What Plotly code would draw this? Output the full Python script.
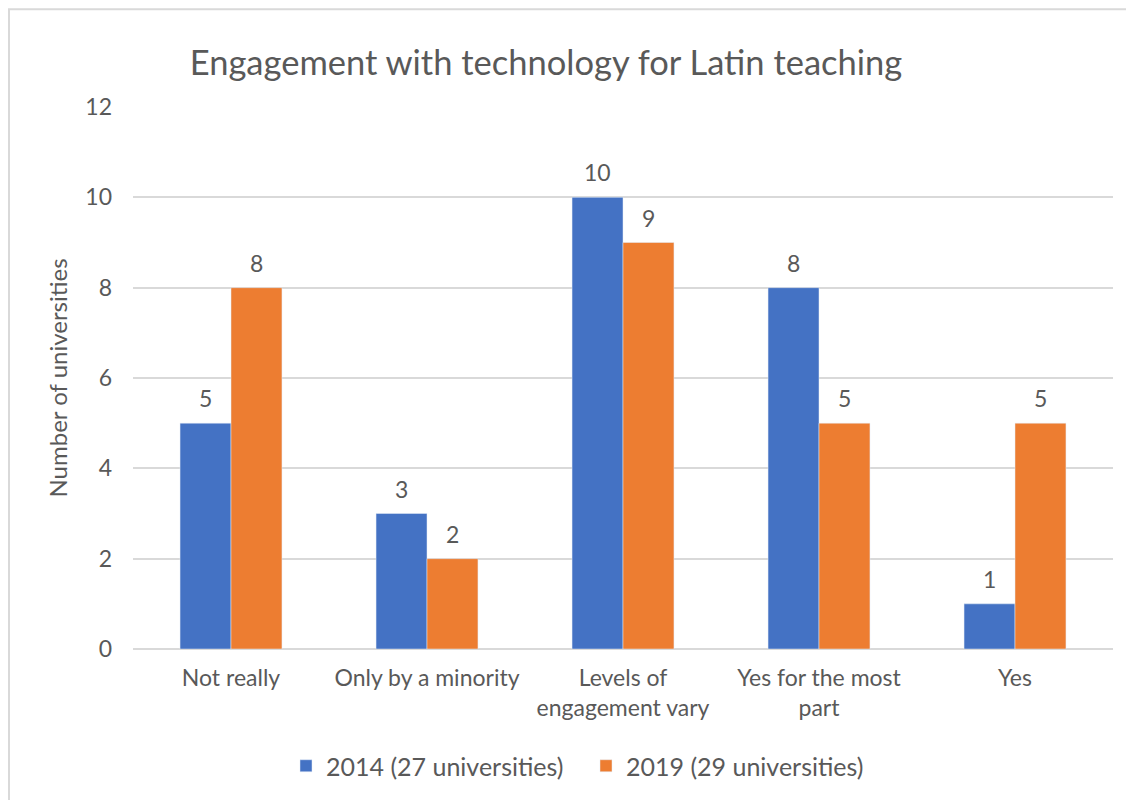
import plotly.graph_objects as go

categories = ["Not really", "Only by a minority", "Levels of<br>engagement vary", "Yes for the most<br>part", "Yes"]
series_2014 = [5, 3, 10, 8, 1]
series_2019 = [8, 2, 9, 5, 5]
name_2014 = "2014 (27 universities)"
name_2019 = "2019 (29 universities)"
y_ticks = [0, 2, 4, 6, 8, 10, 12]

FONT = "Lato, 'Open Sans', sans-serif"
GRAY = "#595959"

# page body has an 8px margin, so the figure begins at (8, 8)
W, H = 1126, 792
L, R, T, B = 125, 21, 99, 150
pw, ph = W - L - R, H - T - B

fig = go.Figure()
fig.add_trace(go.Bar(x=categories, y=series_2014, name=name_2014, marker_color="#4472C4"))
fig.add_trace(go.Bar(x=categories, y=series_2019, name=name_2019, marker_color="#ED7D31"))

annotations = []
for vals, shift in ((series_2014, -25.5), (series_2019, 25.5)):
    for c, v in zip(categories, vals):
        annotations.append(dict(x=c, y=v, xref="x", yref="y", text=str(v), showarrow=False,
                                xshift=shift, yshift=25, yanchor="middle",
                                font=dict(size=23, color=GRAY, family=FONT)))


def px_x(p):
    return (p - L) / pw


def px_y(p):
    return (H - B - p) / ph


fig.update_layout(
    width=W, height=H,
    margin=dict(l=L, r=R, t=T, b=B),
    paper_bgcolor="white", plot_bgcolor="white",
    barmode="group", bargap=0.48, bargroupgap=0,
    font=dict(family=FONT, color=GRAY, size=23),
    title=dict(text="Engagement with technology for Latin teaching", x=538 / W, xanchor="center",
               xref="container", y=1 - 55 / H, yanchor="middle",
               font=dict(size=34.5, color=GRAY, family=FONT)),
    xaxis=dict(showgrid=False, showline=False, ticks="", ticklabelstandoff=13,
               tickfont=dict(size=23, color=GRAY)),
    yaxis=dict(range=[0, 12], tickvals=y_ticks, showgrid=True, gridcolor="#D9D9D9", gridwidth=1.5,
               zeroline=True, zerolinecolor="#D9D9D9", zerolinewidth=1.5, ticks="",
               ticklabelstandoff=20,
               tickfont=dict(size=23, color=GRAY),
               title=dict(text="Number of universities", font=dict(size=24, color=GRAY), standoff=10)),
    legend=dict(orientation="h", x=px_x(578), xanchor="center", y=px_y(758), yanchor="middle",
                font=dict(size=25, color=GRAY), traceorder="normal", itemwidth=30,
                entrywidth=255, entrywidthmode="pixels"),
    annotations=annotations,
    shapes=[dict(type="rect", xref="paper", yref="paper",
                 x0=px_x(1), x1=px_x(W - 1), y0=px_y(H + 10), y1=px_y(1),
                 line=dict(color="#D9D9D9", width=2), fillcolor="rgba(0,0,0,0)", layer="below")],
)

fig.write_html("out.html")
